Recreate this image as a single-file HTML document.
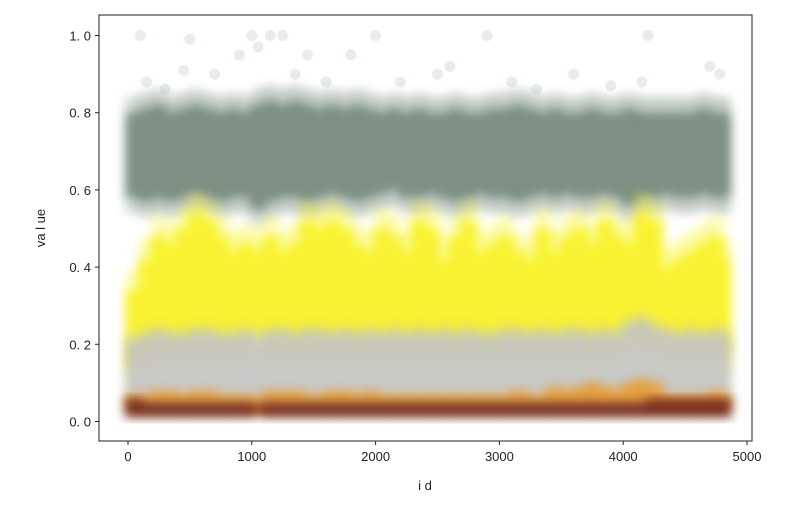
<!DOCTYPE html>
<html><head><meta charset="utf-8"><style>
body{margin:0;background:#fff;}
svg text{font-family:"Liberation Sans","Noto Sans CJK SC",sans-serif;font-size:13px;fill:#222;}
</style></head><body>
<svg id="chart" width="787" height="502" xmlns="http://www.w3.org/2000/svg">
<defs><filter id="blur" x="-50%" y="-30%" width="200%" height="160%"><feGaussianBlur stdDeviation="5"/></filter></defs>
<g id="bands"></g>
<g id="axes"></g>
</svg>
<script>
// ids sampled every 100
const ids = [0,100,200,300,400,500,600,700,800,900,1000,1100,1200,1300,1400,1500,1600,1700,1800,1900,2000,2100,2200,2300,2400,2500,2600,2700,2800,2900,3000,3100,3200,3300,3400,3500,3600,3700,3800,3900,4000,4100,4200,4300,4400,4500,4600,4700,4800];
const greenLo = [0.58,0.57,0.58,0.57,0.58,0.59,0.58,0.57,0.58,0.58,0.55,0.57,0.58,0.58,0.57,0.58,0.59,0.58,0.57,0.58,0.59,0.60,0.58,0.58,0.59,0.58,0.57,0.58,0.59,0.58,0.58,0.57,0.58,0.59,0.58,0.59,0.58,0.58,0.59,0.58,0.56,0.58,0.58,0.59,0.58,0.58,0.59,0.58,0.58];
const greenHi = [0.80,0.81,0.82,0.80,0.81,0.82,0.81,0.80,0.81,0.80,0.82,0.83,0.82,0.83,0.82,0.81,0.82,0.81,0.82,0.81,0.80,0.81,0.80,0.81,0.80,0.80,0.81,0.80,0.80,0.81,0.81,0.82,0.81,0.80,0.81,0.80,0.80,0.81,0.80,0.80,0.81,0.80,0.80,0.80,0.80,0.80,0.81,0.80,0.80];
const yellowLo = [0.14,0.16,0.18,0.18,0.17,0.18,0.18,0.17,0.18,0.18,0.22,0.17,0.17,0.18,0.17,0.18,0.17,0.17,0.17,0.17,0.17,0.18,0.18,0.17,0.17,0.18,0.17,0.17,0.18,0.17,0.18,0.18,0.17,0.18,0.17,0.18,0.18,0.17,0.18,0.18,0.22,0.20,0.20,0.18,0.17,0.18,0.17,0.17,0.17];
const yellowHi = [0.34,0.42,0.48,0.46,0.50,0.54,0.52,0.48,0.44,0.46,0.44,0.48,0.44,0.46,0.52,0.50,0.52,0.50,0.46,0.44,0.50,0.48,0.44,0.52,0.50,0.42,0.48,0.52,0.44,0.46,0.48,0.44,0.42,0.50,0.44,0.48,0.50,0.46,0.52,0.48,0.46,0.54,0.52,0.40,0.42,0.44,0.46,0.48,0.42];
const greyLo = [0.06,0.06,0.06,0.06,0.06,0.06,0.06,0.06,0.06,0.06,0.05,0.06,0.06,0.06,0.06,0.06,0.06,0.06,0.06,0.06,0.06,0.06,0.06,0.06,0.06,0.06,0.06,0.06,0.06,0.06,0.06,0.06,0.06,0.06,0.06,0.06,0.06,0.06,0.06,0.06,0.06,0.07,0.06,0.06,0.06,0.06,0.06,0.06,0.06];
const greyHi = [0.21,0.22,0.23,0.22,0.22,0.23,0.23,0.22,0.22,0.23,0.21,0.23,0.23,0.22,0.23,0.23,0.22,0.23,0.22,0.23,0.22,0.23,0.22,0.23,0.22,0.23,0.22,0.23,0.22,0.22,0.23,0.23,0.22,0.23,0.22,0.23,0.23,0.22,0.23,0.22,0.25,0.26,0.24,0.23,0.22,0.23,0.22,0.23,0.22];
const orangeLo = [0.03,0.03,0.03,0.03,0.03,0.03,0.03,0.03,0.03,0.03,0.02,0.03,0.03,0.03,0.03,0.03,0.03,0.03,0.03,0.03,0.03,0.03,0.03,0.03,0.03,0.03,0.03,0.03,0.03,0.03,0.03,0.03,0.03,0.03,0.03,0.03,0.03,0.03,0.03,0.03,0.03,0.03,0.03,0.03,0.03,0.03,0.03,0.03,0.03];
const orangeHi = [0.07,0.07,0.08,0.08,0.07,0.08,0.08,0.07,0.07,0.07,0.06,0.08,0.08,0.08,0.07,0.07,0.08,0.08,0.07,0.08,0.07,0.07,0.07,0.07,0.07,0.07,0.07,0.07,0.07,0.07,0.07,0.08,0.07,0.07,0.09,0.08,0.09,0.10,0.09,0.08,0.10,0.11,0.10,0.07,0.07,0.07,0.07,0.08,0.07];
const redLo = [0.01,0.01,0.01,0.01,0.01,0.01,0.01,0.01,0.01,0.01,0.02,0.01,0.01,0.01,0.01,0.01,0.01,0.01,0.01,0.01,0.01,0.01,0.01,0.01,0.01,0.01,0.01,0.01,0.01,0.01,0.01,0.01,0.01,0.01,0.01,0.01,0.01,0.01,0.01,0.01,0.01,0.01,0.01,0.01,0.01,0.01,0.01,0.01,0.01];
const redHi = [0.06,0.05,0.05,0.05,0.05,0.05,0.05,0.05,0.05,0.05,0.04,0.05,0.05,0.05,0.05,0.05,0.05,0.05,0.05,0.05,0.05,0.05,0.05,0.05,0.05,0.05,0.05,0.05,0.05,0.05,0.05,0.05,0.05,0.05,0.05,0.05,0.05,0.05,0.05,0.05,0.05,0.05,0.06,0.06,0.06,0.06,0.06,0.06,0.06];
// outlier points of green series
const outIds = [100,500,1000,1050,1150,1250,2000,2900,4200,150,300,450,700,900,1350,1450,1600,1800,2200,2500,2600,3100,3300,3600,3900,4150,4700,4780];
const outVals = [1.0,0.99,1.0,0.97,1.0,1.0,1.0,1.0,1.0,0.88,0.86,0.91,0.90,0.95,0.90,0.95,0.88,0.95,0.88,0.90,0.92,0.88,0.86,0.90,0.87,0.88,0.92,0.90];
const xTicks = [0,1000,2000,3000,4000,5000];
const yTicks = [0.0,0.2,0.4,0.6,0.8,1.0];

const X0=99,X1=752,Y0=15,Y1=441,IDMAX=4850;
const xs = v => 128 + v*0.1238;
const ys = v => 421.5 - v*386;
const NS='http://www.w3.org/2000/svg';
function mk(tag,attrs,parent){const e=document.createElementNS(NS,tag);for(const k in attrs)e.setAttribute(k,attrs[k]);parent.appendChild(e);return e;}
const bands=document.getElementById('bands');
const series=[
 {name:'green',lo:greenLo,hi:greenHi,c:'#667d6e',o:0.85,f:0.04},
 {name:'yellow',lo:yellowLo,hi:yellowHi,c:'#f7f000',o:0.8,f:0.05},
 {name:'grey',lo:greyLo,hi:greyHi,c:'#c4c4c4',o:0.92,f:0.02},
 {name:'orange',lo:orangeLo,hi:orangeHi,c:'#e89a2a',o:0.85,f:0.0},
 {name:'red',lo:redLo,hi:redHi,c:'#6e2418',o:0.9,f:0.0}
];
series.forEach(s=>{
  const g=mk('g',{filter:'url(#blur)',opacity:s.o},bands);
  
  
  ids.forEach((id,i)=>{
    const xa=xs(id)-3, xb=xs(Math.min(id+100,IDMAX))+3;
    if(s.f>0){
      const hr=mk('rect',{x:xa,y:ys(s.hi[i]+s.f),width:xb-xa,height:ys(s.lo[i]-s.f)-ys(s.hi[i]+s.f),fill:s.c,opacity:0.35},g);
      
      
    }
    const r=mk('rect',{x:xa,y:ys(s.hi[i]),width:xb-xa,height:ys(s.lo[i])-ys(s.hi[i]),fill:s.c},g);
    
    
  });
});
outIds.forEach((id,i)=>{
  const c=mk('circle',{cx:xs(id),cy:ys(outVals[i]),r:5.5,fill:'#8fa596',opacity:0.2},bands);
  
  
});
const ax=document.getElementById('axes');
const fr=mk('rect',{x:X0,y:Y0,width:X1-X0,height:Y1-Y0,fill:'none',stroke:'#222','stroke-width':1},ax);


xTicks.forEach(t=>{
  mk('line',{x1:xs(t),x2:xs(t),y1:Y1,y2:Y1+4,stroke:'#222'},ax);
  const tx=mk('text',{x:xs(t),y:Y1+20,'text-anchor':'middle'},ax);tx.textContent=t;
  
  
});
yTicks.forEach(t=>{
  mk('line',{x1:X0-4,x2:X0,y1:ys(t),y2:ys(t),stroke:'#222'},ax);
  const tx=mk('text',{x:X0-8,y:ys(t)+5,'text-anchor':'end'},ax);tx.textContent=t.toFixed(1).split('').join(' ').replace(' . ','. ');
  
  
});
const xt=mk('text',{x:425,y:490,'text-anchor':'middle'},ax);xt.textContent='i d';


const yt=mk('text',{x:0,y:0,'text-anchor':'middle',transform:'translate(45,228) rotate(-90)'},ax);yt.textContent='va l ue';


</script>
</body></html>
